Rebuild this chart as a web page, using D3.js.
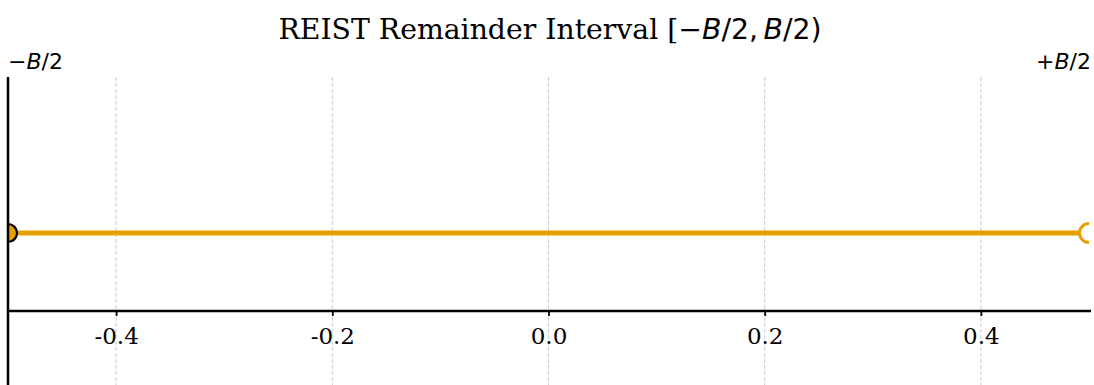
<!DOCTYPE html>
<html>
<head>
<meta charset="utf-8">
<script src="https://cdn.jsdelivr.net/npm/d3@7"></script>
<style>
  body { margin: 0; background: #fff; }
  svg { display: block; }
</style>
</head>
<body>
<svg width="1094" height="385"></svg>
<script>
// data for the interval chart
const xTicks = [-0.4, -0.2, 0.0, 0.2, 0.4];
const intervalX = [-0.5, 0.5];
const intervalY = [0.5, 0.5];
const endLabels = ["\u2212B/2", "+B/2"];

const W = 1094, H = 385;
const svg = d3.select("svg");

const x = d3.scaleLinear().domain([-0.5, 0.5]).range([8, 1089]);
const y = d3.scaleLinear().domain([-0.5, 1.5]).range([389, 77]);

svg.append("defs").append("clipPath").attr("id", "plot")
  .append("rect")
  .attr("x", x(-0.5)).attr("y", y(1.5))
  .attr("width", x(0.5) - x(-0.5)).attr("height", y(-0.5) - y(1.5));

// grid
svg.append("g").selectAll("line")
  .data(xTicks)
  .enter().append("line")
  .attr("x1", d => x(d)).attr("x2", d => x(d))
  .attr("y1", y(1.5)).attr("y2", y(-0.5))
  .attr("stroke", "#cccccc")
  .attr("stroke-width", 1)
  .attr("stroke-dasharray", "4,2");

// bottom axis at y = 0
const axis = svg.append("g")
  .attr("transform", `translate(0, ${y(0)})`)
  .call(d3.axisBottom(x).tickValues(xTicks).tickFormat(d3.format(".1f")).tickSize(5));
axis.select(".domain").attr("stroke", "#000").attr("stroke-width", 2.5)
  .attr("d", `M${x(-0.5)},0H${x(0.5) + 2}`);
axis.selectAll(".tick line").attr("stroke", "#000").attr("stroke-width", 1.8);
axis.selectAll(".tick text")
  .text(d => d3.format(".1f")(d).replace("\u2212", "-"))
  .attr("y", 33).attr("dy", 0)
  .attr("font-family", "DejaVu Serif")
  .attr("font-size", 23)
  .attr("fill", "#000");

// interval line + end markers
const plot = svg.append("g").attr("clip-path", "url(#plot)");
const pts = intervalX.map((d, i) => [d, intervalY[i]]);
plot.append("path")
  .datum(pts)
  .attr("d", d3.line().x(d => x(d[0])).y(d => y(d[1])))
  .attr("stroke", "#E69F00")
  .attr("stroke-width", 5)
  .attr("fill", "none");

plot.append("circle")
  .attr("cx", x(intervalX[0])).attr("cy", y(intervalY[0]))
  .attr("r", 9)
  .attr("fill", "#E69F00")
  .attr("stroke", "#000")
  .attr("stroke-width", 2.2);

plot.append("circle")
  .attr("cx", x(intervalX[1])).attr("cy", y(intervalY[1]))
  .attr("r", 9.5)
  .attr("fill", "#fff")
  .attr("stroke", "#E69F00")
  .attr("stroke-width", 3);

// left spine
svg.append("line")
  .attr("x1", x(-0.5)).attr("x2", x(-0.5))
  .attr("y1", y(1.5)).attr("y2", H)
  .attr("stroke", "#000").attr("stroke-width", 2.5);

// end labels
function mathLabel(sel, label) {
  const parts = label.split("B");
  sel.append("tspan").text(parts[0]);
  sel.append("tspan").attr("font-style", "oblique").text("B");
  sel.append("tspan").text(parts[1]);
}
svg.append("text")
  .attr("x", 8).attr("y", 69)
  .attr("font-family", "DejaVu Sans").attr("font-size", 22)
  .call(mathLabel, endLabels[0]);
svg.append("text")
  .attr("x", 1091).attr("y", 69)
  .attr("text-anchor", "end")
  .attr("font-family", "DejaVu Sans").attr("font-size", 22)
  .call(mathLabel, endLabels[1]);

// title
const title = svg.append("text")
  .attr("x", 550).attr("y", 39)
  .attr("text-anchor", "middle")
  .attr("font-family", "DejaVu Serif").attr("font-size", 28.3);
title.append("tspan").text("REIST Remainder Interval [");
const m = title.append("tspan").attr("font-family", "DejaVu Sans");
m.append("tspan").text("\u2212");
m.append("tspan").attr("font-style", "oblique").text("B");
m.append("tspan").text("/2,\u2009");
m.append("tspan").attr("font-style", "oblique").text("B");
m.append("tspan").text("/2)");
</script>
</body>
</html>
